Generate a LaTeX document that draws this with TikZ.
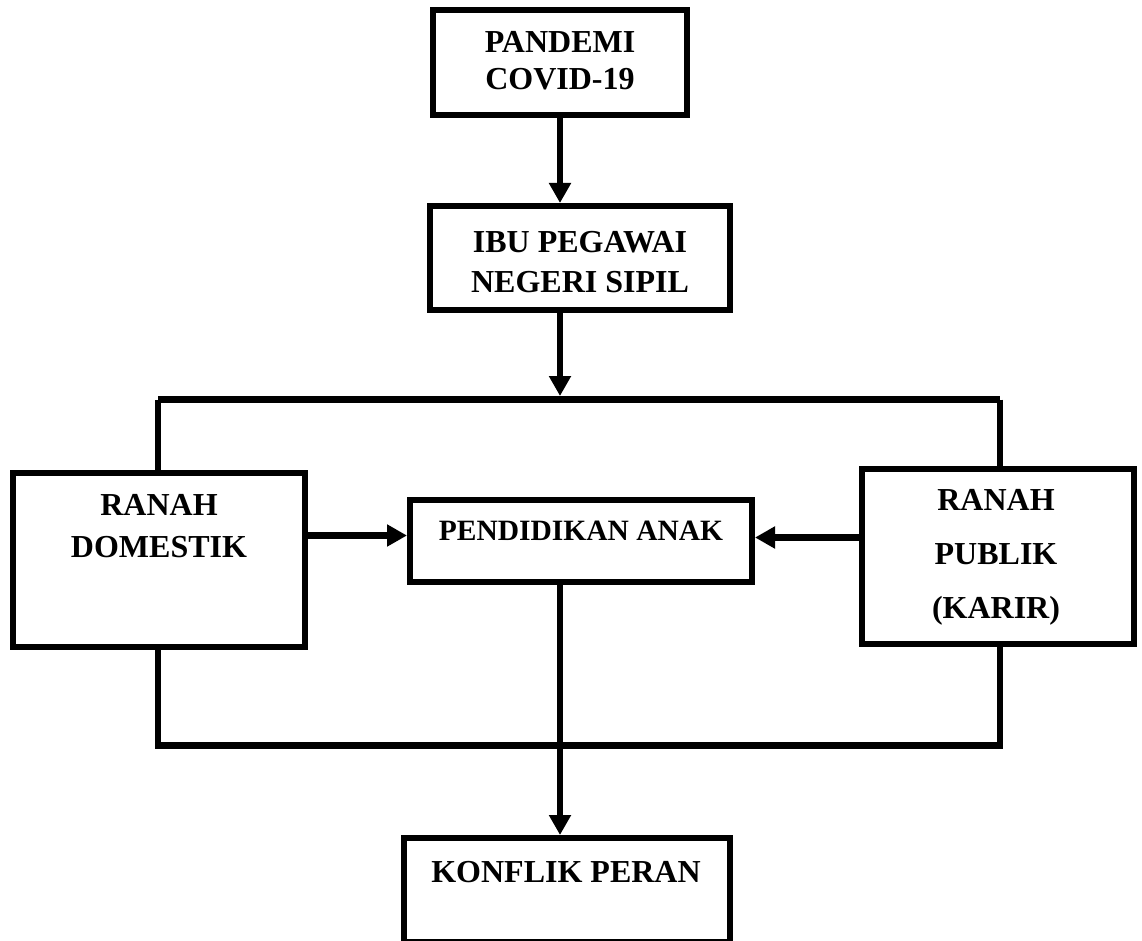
\documentclass[tikz,border=0pt]{standalone}
\usepackage{fontspec}
\setmainfont{Liberation Serif}
\usetikzlibrary{arrows.meta}
\begin{document}
\begin{tikzpicture}[x=1pt,y=-1pt,
  boxstyle/.style={draw=black,line width=6pt,fill=white,rectangle,inner sep=0pt},
  txt/.style={anchor=base,align=center,inner sep=0pt,font=\bfseries\fontsize{32}{37}\selectfont},
  conn/.style={draw=black,line width=6.5pt},
  arr/.style={conn,-{Triangle[length=20pt,width=21pt]}}]
\useasboundingbox (0,0) rectangle (1142,941);
% boxes
\node[boxstyle,minimum width=254pt,minimum height=105pt] (b1) at (560,62.5) {};
\node[boxstyle,minimum width=300pt,minimum height=104pt] (b2) at (580,258) {};
\node[boxstyle,minimum width=292pt,minimum height=174pt] (dom) at (159,560) {};
\node[boxstyle,minimum width=342pt,minimum height=82pt] (pend) at (581,541) {};
\node[boxstyle,minimum width=272pt,minimum height=175pt] (pub) at (998,556.5) {};
\node[boxstyle,minimum width=326pt,minimum height=104pt] (konf) at (567,890) {};
% texts (base anchor = baseline of the last line)
\node[txt] (t1) at (560,90) {PANDEMI\\COVID-19};
\node[txt,font=\bfseries\fontsize{32}{40}\selectfont] (t2) at (580,292) {IBU PEGAWAI\\NEGERI SIPIL};
\node[txt,font=\bfseries\fontsize{32}{42}\selectfont] (t3) at (159,557) {RANAH\\DOMESTIK};
\node[txt,font=\bfseries\fontsize{29.5}{35}\selectfont] (t4) at (581,540) {PENDIDIKAN ANAK};
\node[txt,font=\bfseries\fontsize{32}{54}\selectfont] (t5) at (996,618) {RANAH\\PUBLIK\\(KARIR)};
\node[txt] (t6) at (566,882) {KONFLIK PERAN};
% bracket coordinates
\coordinate (TL) at (158,399.5);
\coordinate (TR) at (1000,399.5);
\coordinate (BL) at (158,745.5);
\coordinate (BR) at (1000,745.5);
\coordinate (tipT) at (560,396);
% connectors
\draw[arr] (b1.south) -- (b1.south |- b2.north);
\draw[arr] (b2.south -| tipT) -- (tipT);
\draw[conn] (TL) -- (TR);
\draw[conn] (TL) -- (TL |- dom.north);
\draw[conn] (TR) -- (TR |- pub.north);
\draw[conn] (TL |- dom.south) -- (BL);
\draw[conn] (TR |- pub.south) -- (BR);
\draw[conn] ([xshift=-3pt]BL) -- ([xshift=3pt]BR);
\draw[arr] (dom.east |- 0,535.5) -- (pend.west |- 0,535.5);
\draw[arr] (pub.west |- 0,537.5) -- (pend.east |- 0,537.5);
\draw[arr] (tipT |- pend.south) -- (tipT |- konf.north);
\end{tikzpicture}
\end{document}
